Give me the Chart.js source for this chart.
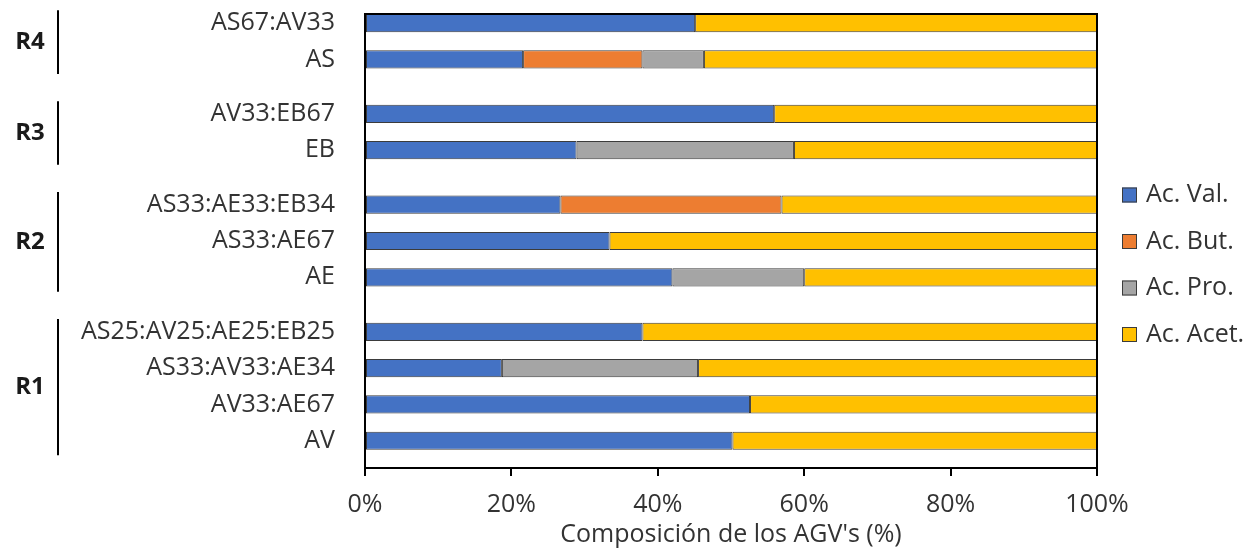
<!DOCTYPE html>
<html>
<head>
<meta charset="utf-8">
<script src="https://cdn.jsdelivr.net/npm/chart.js@4/dist/chart.umd.min.js"></script>
<style>
  html, body { margin: 0; padding: 0; background: #fff; }
  #wrap { width: 1255px; height: 550px; position: relative; }
</style>
</head>
<body>
<div id="wrap"><canvas id="c" width="1255" height="550"></canvas></div>
<script>
// Reactor groups (top to bottom) and how many mixtures each holds
const groupNames = ['R4', 'R3', 'R2', 'R1'];
const groupSizes = [2, 2, 3, 4];

// Substrate mixtures, top to bottom
const categories = [
  'AS67:AV33', 'AS',
  'AV33:EB67', 'EB',
  'AS33:AE33:EB34', 'AS33:AE67', 'AE',
  'AS25:AV25:AE25:EB25', 'AS33:AV33:AE34', 'AV33:AE67', 'AV'
];

// VFA composition (%) per mixture
const seriesNames = ['Ac. Val.', 'Ac. But.', 'Ac. Pro.', 'Ac. Acet.'];
const acVal  = [45.1, 21.6, 55.9, 28.9, 26.7, 33.4, 42.0, 37.9, 18.7, 52.6, 50.2];
const acBut  = [null, 16.3, null, null, 30.2, null, null, null, null, null, null];
const acPro  = [null,  8.4, null, 29.7, null, null, 18.0, null, 26.8, null, null];
const acAcet = [54.9, 53.7, 44.1, 41.4, 43.1, 66.6, 40.0, 62.1, 54.5, 47.4, 49.8];

const xTicks = [0, 20, 40, 60, 80, 100];

const seriesValues = [acVal, acBut, acPro, acAcet];
const seriesColors = ['#4472C4', '#ED7D31', '#A5A5A5', '#FFC000'];

const FONT = "'Open Sans', 'Noto Sans', sans-serif";
const TEXT = '#333333';

// Row positions on the category scale: half a row of space between reactors
const rowPos = [];
const groupRanges = [];
let pos = 0;
groupSizes.forEach(n => {
  const first = rowPos.length;
  for (let i = 0; i < n; i++) { rowPos.push(pos); pos += 1; }
  groupRanges.push([first, rowPos.length - 1]);
  pos += 0.5;
});

const datasets = seriesNames.map((name, k) => ({
  label: name,
  data: seriesValues[k].map((v, i) => ({ x: v, y: rowPos[i] })),
  backgroundColor: seriesColors[k],
  borderColor: '#3b3b3b',
  borderWidth: 1,
  borderSkipped: false,
  barPercentage: 0.5,
  categoryPercentage: 1
}));

// Box around the plot area
const framePlugin = {
  id: 'frame',
  afterDatasetsDraw(chart) {
    const { ctx, chartArea: a } = chart;
    ctx.save();
    ctx.strokeStyle = '#000';
    ctx.lineWidth = 2;
    ctx.strokeRect(a.left, a.top, a.right - a.left, a.bottom - a.top);
    ctx.restore();
  }
};

// Reactor labels with a bracket line beside each group
const groupPlugin = {
  id: 'groups',
  afterDraw(chart) {
    const { ctx } = chart;
    const y = chart.scales.y;
    ctx.save();
    groupRanges.forEach(([f, l], g) => {
      const top = y.getPixelForValue(rowPos[f] - 0.35);
      const bottom = y.getPixelForValue(rowPos[l] + 0.4);
      ctx.strokeStyle = '#000';
      ctx.lineWidth = 2;
      ctx.beginPath();
      ctx.moveTo(58, top);
      ctx.lineTo(58, bottom);
      ctx.stroke();
      ctx.fillStyle = '#1a1a1a';
      ctx.font = `bold 24px ${FONT}`;
      ctx.textAlign = 'center';
      ctx.textBaseline = 'middle';
      ctx.fillText(groupNames[g], 30, (top + bottom) / 2);
    });
    ctx.restore();
  }
};

// Legend to the right of the plot
const legendPlugin = {
  id: 'sideLegend',
  afterDraw(chart) {
    const { ctx } = chart;
    const x0 = chart.chartArea.right + 25;
    const y0 = 195;
    const step = 46.5;
    ctx.save();
    chart.data.datasets.forEach((ds, k) => {
      const cy = y0 + k * step;
      ctx.fillStyle = ds.backgroundColor;
      ctx.fillRect(x0, cy - 7.5, 15, 15);
      ctx.strokeStyle = '#3b3b3b';
      ctx.lineWidth = 1;
      ctx.strokeRect(x0 + 0.5, cy - 7, 14, 14);
      ctx.fillStyle = TEXT;
      ctx.font = `25px ${FONT}`;
      ctx.textAlign = 'left';
      ctx.textBaseline = 'middle';
      ctx.fillText(ds.label, x0 + 24, cy);
    });
    ctx.restore();
  }
};

new Chart(document.getElementById('c'), {
  type: 'bar',
  data: { datasets },
  plugins: [framePlugin, groupPlugin, legendPlugin],
  options: {
    indexAxis: 'y',
    responsive: false,
    animation: false,
    layout: { padding: { left: 0, right: 158, top: 14, bottom: 0 } },
    plugins: {
      legend: { display: false },
      tooltip: { enabled: false }
    },
    scales: {
      x: {
        type: 'linear',
        position: 'bottom',
        min: 0,
        max: 100,
        stacked: true,
        afterBuildTicks: s => { s.ticks = xTicks.map(v => ({ value: v })); },
        afterFit: s => { s.height = 82; s.paddingLeft = 0; s.paddingRight = 0; },
        ticks: {
          callback: v => v + '%',
          color: TEXT,
          font: { family: FONT, size: 25 },
          padding: 14,
          maxRotation: 0,
          autoSkip: false
        },
        grid: {
          drawOnChartArea: false,
          drawTicks: true,
          tickLength: 8,
          color: '#000',
          lineWidth: 2
        },
        border: { display: true, color: '#000', width: 2 },
        title: {
          display: true,
          text: "Composición de los AGV's (%)",
          color: TEXT,
          font: { family: FONT, size: 25 },
          padding: { top: 0, bottom: 0 }
        }
      },
      y: {
        type: 'linear',
        reverse: true,
        offset: false,
        min: -0.25,
        max: 12.25,
        stacked: true,
        afterBuildTicks: s => { s.ticks = rowPos.map(v => ({ value: v })); },
        afterFit: s => { s.width = 365; s.paddingTop = 0; s.paddingBottom = 0; },
        ticks: {
          callback: v => categories[rowPos.indexOf(v)],
          color: TEXT,
          font: { family: FONT, size: 25 },
          padding: 30,
          autoSkip: false
        },
        grid: { display: false, drawTicks: false },
        border: { display: true, color: '#000', width: 2 }
      }
    }
  }
});
</script>
</body>
</html>
